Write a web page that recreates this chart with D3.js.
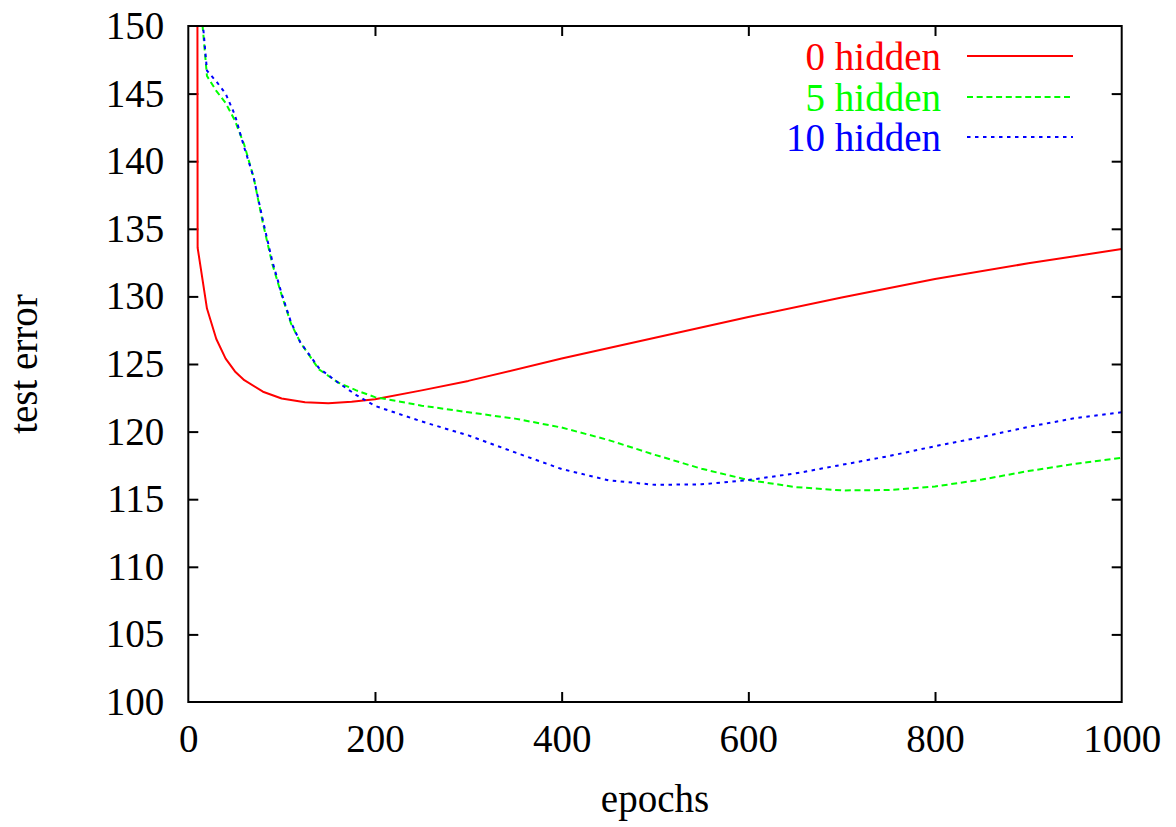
<!DOCTYPE html>
<html>
<head>
<meta charset="utf-8">
<script src="https://cdn.jsdelivr.net/npm/d3@7"></script>
<style>
  html, body { margin: 0; padding: 0; background: #fff; }
  svg { display: block; }
  svg text { font-family: "Liberation Serif", "Times New Roman", serif !important; }
</style>
</head>
<body>
<svg id="chart" width="1176" height="827"></svg>
<script>
// Test error against training epochs for networks with 0, 5 and 10 hidden units
const seriesNames = ["0 hidden", "5 hidden", "10 hidden"];

const epochs0 = [0, 10, 20, 30, 40, 50, 60, 80, 100, 125, 150, 175, 200, 250, 300, 400, 500, 600, 700, 800, 900, 1000];
const error0  = [900, 133.6, 129.1, 126.85, 125.4, 124.45, 123.8, 122.95, 122.45, 122.17, 122.1, 122.2, 122.4, 123.05, 123.75, 125.4, 126.94, 128.47, 129.92, 131.28, 132.45, 133.5];

const epochs5 = [0, 10, 20, 30, 40, 50, 60, 70, 80, 90, 100, 110, 120, 140, 160, 180, 200, 250, 300, 350, 400, 450, 500, 550, 600, 650, 700, 750, 800, 850, 900, 950, 1000];
const error5  = [300, 154.2, 146.3, 145.2, 144.3, 143.0, 141.2, 138.8, 135.4, 132.4, 130.1, 128.0, 126.6, 124.6, 123.65, 123.05, 122.55, 121.92, 121.43, 120.96, 120.3, 119.38, 118.28, 117.25, 116.42, 115.9, 115.65, 115.68, 115.94, 116.45, 117.08, 117.62, 118.07];

const epochs10 = [0, 10, 20, 30, 40, 50, 60, 70, 80, 90, 100, 110, 120, 140, 160, 180, 200, 250, 300, 350, 400, 450, 500, 550, 600, 650, 700, 750, 800, 850, 900, 950, 1000];
const error10  = [300, 154.6, 146.7, 145.9, 145.0, 143.4, 141.0, 138.8, 135.6, 132.6, 130.2, 128.1, 126.6, 124.7, 123.65, 122.7, 121.9, 120.75, 119.72, 118.46, 117.23, 116.4, 116.06, 116.1, 116.42, 116.9, 117.54, 118.18, 118.92, 119.6, 120.35, 121.0, 121.43];

const xTicks = [0, 200, 400, 600, 800, 1000];
const yTicks = [100, 105, 110, 115, 120, 125, 130, 135, 140, 145, 150];

const svg = d3.select("#chart");
const plotLeft = 188.3, plotRight = 1121.7, plotTop = 26, plotBottom = 702;
const x = d3.scaleLinear().domain([0, 1000]).range([plotLeft, plotRight]);
const y = d3.scaleLinear().domain([100, 150]).range([plotBottom, plotTop]);

const serif = '"Liberation Serif", "Times New Roman", serif';

const series = [
  { name: seriesNames[0], xs: epochs0,  ys: error0,  color: "#ff0000", dash: null },
  { name: seriesNames[1], xs: epochs5,  ys: error5,  color: "#00ff00", dash: "6,3.7" },
  { name: seriesNames[2], xs: epochs10, ys: error10, color: "#0000ff", dash: "3.5,4.5" }
];

svg.append("defs").append("clipPath").attr("id", "plotClip")
  .append("rect").attr("x", plotLeft).attr("y", plotTop)
  .attr("width", plotRight - plotLeft).attr("height", plotBottom - plotTop);

const fontSize = 39;

// Axes with inward ticks on all four sides
const tickLen = 10;
const axisBottom = d3.axisBottom(x).tickValues(xTicks).tickFormat(d3.format("d")).tickSizeInner(-tickLen).tickSizeOuter(0).tickPadding(22);
const axisTop = d3.axisTop(x).tickValues(xTicks).tickFormat("").tickSizeInner(-tickLen).tickSizeOuter(0);
const axisLeft = d3.axisLeft(y).tickValues(yTicks).tickFormat(d3.format("d")).tickSizeInner(-tickLen).tickSizeOuter(0).tickPadding(24);
const axisRight = d3.axisRight(y).tickValues(yTicks).tickFormat("").tickSizeInner(-tickLen).tickSizeOuter(0);

function styleAxis(g) {
  g.attr("font-family", serif).attr("font-size", fontSize);
  g.select(".domain").remove();
  g.selectAll(".tick line").attr("stroke", "#000").attr("stroke-width", 2);
  g.selectAll(".tick text").attr("fill", "#000");
}

svg.append("g").attr("transform", `translate(0,${plotBottom})`).call(axisBottom).call(styleAxis);
svg.append("g").attr("transform", `translate(0,${plotTop})`).call(axisTop).call(styleAxis);
svg.append("g").attr("transform", `translate(${plotLeft},0)`).call(axisLeft).call(styleAxis);
svg.append("g").attr("transform", `translate(${plotRight},0)`).call(axisRight).call(styleAxis);

// Drop the duplicated corner ticks at the frame edges
svg.selectAll(".tick").filter(d => d === 0 || d === 1000 || d === 100 || d === 150).select("line").remove();

// Curves
const line = d3.line().x(d => x(d[0])).y(d => y(d[1]));
const plot = svg.append("g").attr("clip-path", "url(#plotClip)");
series.forEach(s => {
  const pts = s.xs.map((e, i) => [e, s.ys[i]]);
  plot.append("path")
    .datum(pts)
    .attr("d", line)
    .attr("fill", "none")
    .attr("stroke", s.color)
    .attr("stroke-width", 2)
    .attr("stroke-linejoin", "round")
    .attr("stroke-dasharray", s.dash);
});

// Frame
svg.append("rect")
  .attr("x", plotLeft).attr("y", plotTop)
  .attr("width", plotRight - plotLeft).attr("height", plotBottom - plotTop)
  .attr("fill", "none").attr("stroke", "#000").attr("stroke-width", 2);

// Legend
const legend = svg.append("g").attr("font-family", serif).attr("font-size", fontSize);
const legendRows = [56, 97, 137];
series.forEach((s, i) => {
  legend.append("text")
    .attr("x", 941).attr("y", legendRows[i])
    .attr("dy", "0.35em")
    .attr("text-anchor", "end")
    .attr("fill", s.color)
    .text(s.name);
  legend.append("line")
    .attr("x1", 967).attr("x2", 1073)
    .attr("y1", legendRows[i]).attr("y2", legendRows[i])
    .attr("stroke", s.color).attr("stroke-width", 2)
    .attr("stroke-dasharray", s.dash);
});

// Axis titles
svg.append("text")
  .attr("x", 655).attr("y", 812)
  .attr("text-anchor", "middle")
  .attr("font-family", serif).attr("font-size", fontSize)
  .text("epochs");

svg.append("text")
  .attr("transform", "translate(37,364) rotate(-90)")
  .attr("text-anchor", "middle")
  .attr("font-family", serif).attr("font-size", fontSize)
  .text("test error");
</script>
</body>
</html>
